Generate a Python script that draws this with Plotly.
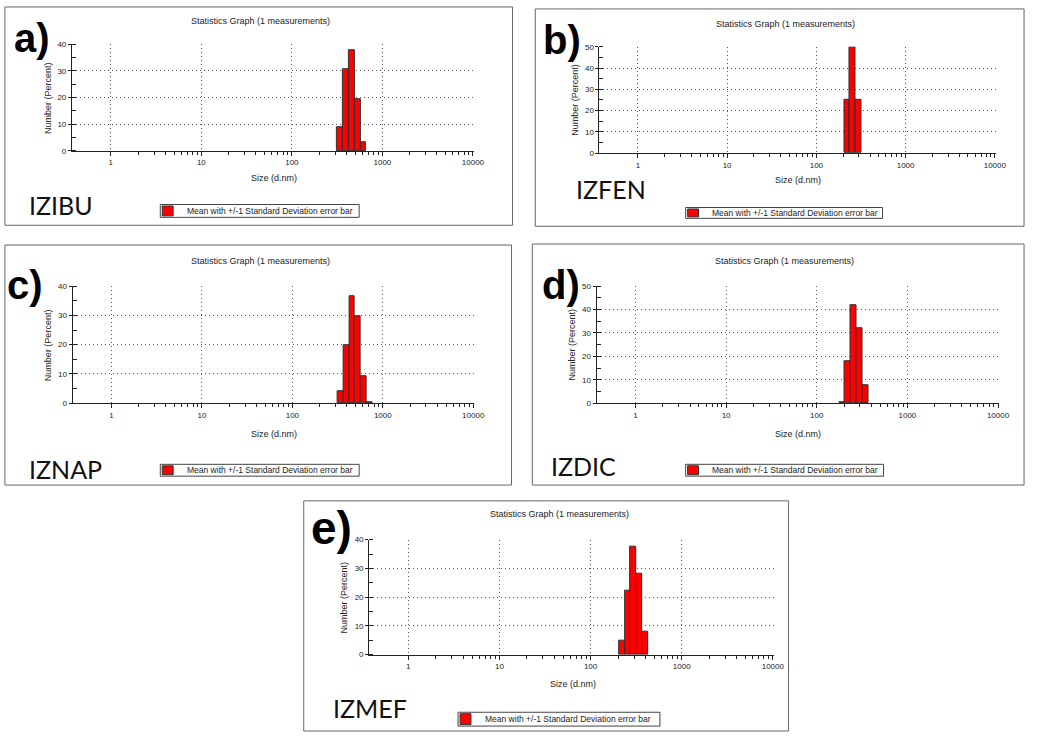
import numpy as np
import plotly.graph_objects as go

# Number distribution (%) per size class (d.nm) for each sample
izibu_size = [342.0, 396.1, 458.7, 531.2, 615.1]
izibu_number = [9.0, 30.5, 37.8, 19.3, 3.1]
izfen_size = [220.2, 255.0, 295.3]
izfen_number = [25.0, 50.0, 25.0]
iznap_size = [342.0, 396.1, 458.7, 531.2, 615.1, 712.4]
iznap_number = [3.9, 19.7, 36.6, 29.7, 9.3, 0.3]
izdic_size = [190.1, 220.2, 255.0, 295.3, 342.0]
izdic_number = [0.5, 18.0, 41.7, 32.1, 7.6]
izmef_size = [220.2, 255.0, 295.3, 342.0, 396.1]
izmef_number = [4.9, 22.1, 37.6, 28.0, 8.0]

sample_names = ["IZIBU", "IZFEN", "IZNAP", "IZDIC", "IZMEF"]
panel_letters = ["a)", "b)", "c)", "d)", "e)"]
y_max = [40, 50, 40, 50, 40]
x_tick_vals = [1, 10, 100, 1000, 10000]
x_tick_text = ["1", "10", "100", "1000", "10000"]
chart_title = "Statistics Graph (1 measurements)"
x_title = "Size (d.nm)"
y_title = "Number (Percent)"
legend_text = "Mean with +/-1 Standard Deviation error bar"

sizes = [izibu_size, izfen_size, iznap_size, izdic_size, izmef_size]
numbers = [izibu_number, izfen_number, iznap_number, izdic_number, izmef_number]

W, H = 1038, 738
X_LO, X_HI = -0.43, 4.01          # log10 range of the size axis
N_CLASSES = 70                     # instrument size classes from 0.4 to 10000 nm
half_step = 10 ** (np.log10(10000 / 0.4) / (N_CLASSES - 1) / 2)

# Pixel layout of each panel
panels = [
    dict(frame=(5, 3, 518, 224), x0=112.0, dec=91.5, ytop=40.7, ybot=148.7,
         title=(263, 17), xtitle=(277, 176), ytitle_x=48, letter=(12, 34, 40),
         name=(27, 203), legend=(162, 203, 363, 216)),
    dict(frame=(541, 5, 1035, 225), x0=644.7, dec=90.2, ytop=43.3, ybot=151.0,
         title=(794, 20), xtitle=(807, 178), ytitle_x=581, letter=(547, 36, 40),
         name=(580, 187), legend=(693, 206, 892, 217)),
    dict(frame=(5, 244, 517, 487), x0=112.7, dec=91.4, ytop=285.7, ybot=404.0,
         title=(263, 260), xtitle=(277, 435), ytitle_x=48, letter=(5, 284, 40),
         name=(27, 471), legend=(162, 466, 363, 478)),
    dict(frame=(538, 243, 1035, 487), x0=642.3, dec=91.6, ytop=285.7, ybot=404.0,
         title=(793, 260), xtitle=(807, 435), ytitle_x=578, letter=(546, 284, 40),
         name=(555, 468), legend=(693, 466, 893, 478)),
    dict(frame=(307, 503, 797, 736), x0=412.7, dec=92.1, ytop=542.3, ybot=658.7,
         title=(565, 516), xtitle=(579, 688), ytitle_x=348, letter=(312, 530, 46),
         name=(335, 713), legend=(463, 717, 667, 731)),
]


def px(x):
    return x / W


def py(y):
    return 1 - y / H


TXT = "#222222"
FONT = "Liberation Sans, Arial, sans-serif"
# minor ticks at 2..9 of every decade from 1 to 10000
minor_x = [m * 10 ** k for k in range(0, 4) for m in range(2, 10)]

fig = go.Figure()
shapes = []
annotations = []

for i, (p, s, n) in enumerate(zip(panels, sizes, numbers)):
    idx = "" if i == 0 else str(i + 1)
    xa, ya = "x" + idx, "y" + idx
    s = np.array(s)
    left = s / half_step
    right = s * half_step
    fig.add_trace(go.Bar(
        x=s, y=n, offset=left - s, width=right - left,
        marker=dict(color="#ff0000", line=dict(color="#303030", width=1)),
        xaxis=xa, yaxis=ya, showlegend=False,
    ))

    dom_x = [px(p["x0"] + X_LO * p["dec"]), px(p["x0"] + X_HI * p["dec"])]
    dom_y = [py(p["ybot"]), py(p["ytop"])]
    grid = dict(showgrid=True, gridcolor="#555555", griddash="1px,3px", gridwidth=1)
    fig.layout["xaxis" + idx] = dict(
        type="log", range=[X_LO, X_HI], domain=dom_x, anchor=ya,
        tickmode="array", tickvals=x_tick_vals, ticktext=x_tick_text,
        ticks="outside", ticklen=4, tickcolor="#222", showline=True,
        linecolor="#222", linewidth=1, zeroline=False,
        tickfont=dict(family=FONT, size=8, color=TXT),
        minor=dict(tickmode="array", tickvals=minor_x, ticks="outside",
                   ticklen=3, tickcolor="#222", showgrid=False),
        **grid,
    )
    fig.layout["yaxis" + idx] = dict(
        range=[0, y_max[i]], domain=dom_y, anchor=xa, dtick=10,
        ticks="outside", ticklen=3, tickcolor="#222", showline=True,
        linecolor="#222", linewidth=1, zeroline=False,
        tickfont=dict(family=FONT, size=8, color=TXT),
        minor=dict(dtick=5, ticks="inside", ticklen=4, tickcolor="#222", showgrid=False),
        **grid,
    )

    # panel frame
    x1, y1, x2, y2 = p["frame"]
    shapes.append(dict(type="rect", xref="paper", yref="paper",
                       x0=px(x1), x1=px(x2), y0=py(y2), y1=py(y1),
                       line=dict(color="#666666", width=1)))

    # legend box with swatch
    lx1, ly1, lx2, ly2 = p["legend"]
    shapes.append(dict(type="rect", xref="paper", yref="paper",
                       x0=px(lx1), x1=px(lx2), y0=py(ly2), y1=py(ly1),
                       line=dict(color="#444444", width=1), fillcolor="white"))
    shapes.append(dict(type="rect", xref="paper", yref="paper",
                       x0=px(lx1 + 2), x1=px(lx1 + 13), y0=py(ly2 - 1.5), y1=py(ly1 + 1.5),
                       line=dict(color="#303030", width=1), fillcolor="#ff0000"))
    annotations.append(dict(text=legend_text, xref="paper", yref="paper",
                            x=px(lx1 + 25), y=py((ly1 + ly2) / 2), xanchor="left",
                            yanchor="middle", showarrow=False,
                            font=dict(family=FONT, size=8.5, color=TXT)))

    # chart and axis titles
    annotations.append(dict(text=chart_title, xref="paper", yref="paper",
                            x=px(p["title"][0]), y=py(p["title"][1]), xanchor="center",
                            yanchor="middle", showarrow=False,
                            font=dict(family=FONT, size=9, color=TXT)))
    annotations.append(dict(text=x_title, xref="paper", yref="paper",
                            x=px(p["xtitle"][0]), y=py(p["xtitle"][1]), xanchor="center",
                            yanchor="middle", showarrow=False,
                            font=dict(family=FONT, size=9, color=TXT)))
    annotations.append(dict(text=y_title, xref="paper", yref="paper", textangle=-90,
                            x=px(p["ytitle_x"]), y=py((p["ytop"] + p["ybot"]) / 2),
                            xanchor="center", yanchor="middle", showarrow=False,
                            font=dict(family=FONT, size=9, color=TXT)))

    # sample name and panel letter
    annotations.append(dict(text=sample_names[i], xref="paper", yref="paper",
                            x=px(p["name"][0]), y=py(p["name"][1]), xanchor="left",
                            yanchor="middle", showarrow=False,
                            font=dict(family="Lato, sans-serif", size=25, color="#111")))
    lxp, lyp, lsz = p["letter"]
    annotations.append(dict(text="<b>" + panel_letters[i] + "</b>", xref="paper", yref="paper",
                            x=px(lxp), y=py(lyp), xanchor="left", yanchor="middle",
                            showarrow=False,
                            font=dict(family="Liberation Sans, Arial, sans-serif",
                                      size=lsz, color="#000")))

fig.update_layout(
    width=W, height=H, margin=dict(l=0, r=0, t=0, b=0),
    paper_bgcolor="white", plot_bgcolor="white",
    shapes=shapes, annotations=annotations, bargap=0,
)

fig.write_html("out.html")
